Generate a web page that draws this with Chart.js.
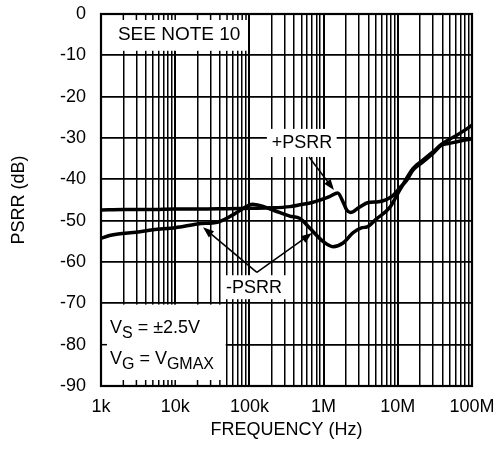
<!DOCTYPE html>
<html lang="en">
<head>
    <meta charset="UTF-8">
    <title>PSRR vs Frequency</title>
    <script src="https://cdn.jsdelivr.net/npm/chart.js"></script>
    <style>
        html, body { margin: 0; padding: 0; background: #fff; }
        #wrap { width: 496px; height: 458px; }
    </style>
</head>
<body>
    <div id="wrap"><canvas id="psrrChart"></canvas></div>

    <script>
        // frequency (Hz) / dB points
        const FREQ_POS = [1e3, 2e3, 5e3, 1e4, 2e4, 5e4, 1e5, 2e5, 3.5e5, 5e5, 7e5, 9e5, 1.2e6, 1.55e6, 1.8e6, 2.05e6, 2.3e6, 3e6, 4e6, 5.5e6, 7e6, 8.5e6, 1.07e7, 1.3e7, 1.6e7, 2.2e7, 3e7, 3.9e7, 5e7, 6.3e7, 8e7, 1e8];
        const PSRR_POS = [-47.4, -47.3, -47.3, -47.2, -47.2, -47.1, -47.0, -46.9, -46.6, -46.1, -45.6, -45.0, -44.2, -43.3, -45.2, -47.4, -48.0, -46.8, -45.6, -45.4, -44.9, -44.0, -42.0, -40.4, -37.8, -35.7, -33.7, -31.7, -31.3, -30.9, -30.5, -30.2];

        const FREQ_NEG = [1e3, 1.3e3, 1.7e3, 3e3, 5e3, 1e4, 2e4, 4e4, 6e4, 8e4, 1.1e5, 1.5e5, 2.2e5, 3.5e5, 4.8e5, 6.5e5, 9.8e5, 1.34e6, 1.83e6, 2.5e6, 3.3e6, 3.85e6, 5.2e6, 7.8e6, 1.07e7, 1.6e7, 2.2e7, 3e7, 3.9e7, 5e7, 6.3e7, 8e7, 1e8];
        const PSRR_NEG = [-54.3, -53.6, -53.2, -52.8, -52.2, -51.7, -50.8, -50.2, -48.6, -47.2, -46.0, -46.5, -47.6, -48.9, -49.5, -51.8, -55.0, -56.3, -55.4, -52.9, -51.7, -51.5, -49.5, -46.8, -42.5, -37.4, -35.3, -33.3, -31.5, -30.3, -29.3, -28.1, -26.9];

        const X_DECADES = [1e3, 1e4, 1e5, 1e6, 1e7, 1e8];
        const X_LABELS = ["1k", "10k", "100k", "1M", "10M", "100M"];
        const Y_TICKS = [0, -10, -20, -30, -40, -50, -60, -70, -80, -90];

        const FONT = "'Liberation Sans', Arial, Helvetica, sans-serif";

        function pairs(xs, ys) {
            return xs.map((f, i) => ({ x: f, y: ys[i] }));
        }

        function isDecade(v) {
            const l = Math.log10(v);
            return Math.abs(l - Math.round(l)) < 1e-9;
        }

        // boxes, labels and arrows in data coordinates
        const overlay = {
            id: "overlay",
            afterDatasetsDraw(chart) {
                const { ctx, chartArea: a, scales: { x, y } } = chart;
                const px = v => x.getPixelForValue(v);
                const py = v => y.getPixelForValue(v);

                function whiteBox(f0, f1, d0, d1) {
                    ctx.fillStyle = "#fff";
                    ctx.fillRect(px(f0), py(d0), px(f1) - px(f0), py(d1) - py(d0));
                }

                function arrow(f0, d0, f1, d1) {
                    const x0 = px(f0), y0 = py(d0), x1 = px(f1), y1 = py(d1);
                    const ang = Math.atan2(y1 - y0, x1 - x0);
                    const hl = 11, hw = 4;
                    ctx.strokeStyle = "#000";
                    ctx.lineWidth = 1.5;
                    ctx.beginPath();
                    ctx.moveTo(x0, y0);
                    ctx.lineTo(x1 - Math.cos(ang) * hl * 0.8, y1 - Math.sin(ang) * hl * 0.8);
                    ctx.stroke();
                    ctx.fillStyle = "#000";
                    ctx.beginPath();
                    ctx.moveTo(x1, y1);
                    ctx.lineTo(x1 - Math.cos(ang) * hl - Math.sin(ang) * hw, y1 - Math.sin(ang) * hl + Math.cos(ang) * hw);
                    ctx.lineTo(x1 - Math.cos(ang) * hl + Math.sin(ang) * hw, y1 - Math.sin(ang) * hl - Math.cos(ang) * hw);
                    ctx.closePath();
                    ctx.fill();
                }

                ctx.save();

                // SEE NOTE 10 box, with the top ticks left showing
                whiteBox(1e3, 9.5e4, 0, -8.9);
                ctx.strokeStyle = "#000";
                ctx.lineWidth = 1.5;
                x.ticks.forEach(t => {
                    if (t.value > 1e3 && t.value < 9.5e4) {
                        ctx.beginPath();
                        ctx.moveTo(px(t.value), a.top);
                        ctx.lineTo(px(t.value), a.top + 6);
                        ctx.stroke();
                    }
                });

                // VS / VG box, bottom + left ticks
                whiteBox(1e3, 4.8e4, -70.3, -90);
                x.ticks.forEach(t => {
                    if (t.value > 1e3 && t.value < 4.8e4) {
                        ctx.beginPath();
                        ctx.moveTo(px(t.value), a.bottom);
                        ctx.lineTo(px(t.value), a.bottom - 6);
                        ctx.stroke();
                    }
                });
                Y_TICKS.forEach(v => {
                    if (v < -70.3 && v > -90) {
                        ctx.beginPath();
                        ctx.moveTo(a.left, py(v));
                        ctx.lineTo(a.left + 6, py(v));
                        ctx.stroke();
                    }
                });

                // label backgrounds
                whiteBox(1.72e5, 1.5e6, -27.8, -34.6);
                whiteBox(4.3e4, 3.2e5, -63.2, -69.0);

                ctx.fillStyle = "#000";
                ctx.font = "19px " + FONT;
                ctx.textBaseline = "middle";
                ctx.textAlign = "left";
                ctx.fillText("SEE NOTE 10", px(1.69e3), py(-5.1));

                ctx.font = "18px " + FONT;
                ctx.textAlign = "center";
                ctx.fillText("+PSRR", px(5.1e5), py(-31.2));
                ctx.fillText("-PSRR", px(1.15e5), py(-66.3));

                // supply / gain conditions
                ctx.textAlign = "left";
                ctx.textBaseline = "alphabetic";
                let cx = px(1.32e3);
                let by = py(-77.2);
                ctx.font = "18px " + FONT;
                ctx.fillText("V", cx, by);
                let w = ctx.measureText("V").width;
                ctx.font = "16px " + FONT;
                ctx.fillText("S", cx + w, by + 5);
                w += ctx.measureText("S").width;
                ctx.font = "18px " + FONT;
                ctx.fillText(" = \u00b12.5V", cx + w, by);

                by = py(-84.7);
                ctx.fillText("V", cx, by);
                w = ctx.measureText("V").width;
                ctx.font = "16px " + FONT;
                ctx.fillText("G", cx + w, by + 5);
                w += ctx.measureText("G").width;
                ctx.font = "18px " + FONT;
                ctx.fillText(" = V", cx + w, by);
                w += ctx.measureText(" = V").width;
                ctx.font = "16px " + FONT;
                ctx.fillText("GMAX", cx + w, by + 5);

                // arrows
                arrow(6.36e5, -34.6, 1.38e6, -42.6);
                arrow(1.26e5, -62.5, 2.37e4, -51.6);
                arrow(1.26e5, -62.5, 6.98e5, -53.0);

                // outer frame
                ctx.strokeStyle = "#000";
                ctx.lineWidth = 2.2;
                ctx.strokeRect(a.left, a.top, a.right - a.left, a.bottom - a.top);
                ctx.restore();
            }
        };

        document.addEventListener("DOMContentLoaded", () => {
            const ctx = document.getElementById("psrrChart").getContext("2d");

            new Chart(ctx, {
                type: "line",
                data: {
                    datasets: [{
                        label: "+PSRR",
                        data: pairs(FREQ_POS, PSRR_POS),
                        borderColor: "#000",
                        borderWidth: 3.5,
                        pointRadius: 0,
                        cubicInterpolationMode: "monotone"
                    }, {
                        label: "-PSRR",
                        data: pairs(FREQ_NEG, PSRR_NEG),
                        borderColor: "#000",
                        borderWidth: 3.5,
                        pointRadius: 0,
                        cubicInterpolationMode: "monotone"
                    }]
                },
                options: {
                    responsive: true,
                    maintainAspectRatio: false,
                    animation: false,
                    layout: { padding: { top: 14, right: 24, left: 0, bottom: 0 } },
                    plugins: {
                        legend: { display: false },
                        tooltip: { enabled: false }
                    },
                    scales: {
                        x: {
                            type: "logarithmic",
                            min: 1e3,
                            max: 1e8,
                            afterBuildTicks: scale => {
                                const ticks = [];
                                X_DECADES.forEach(d => {
                                    for (let m = 1; m <= 9; m++) {
                                        const v = d * m;
                                        if (v <= 1e8) ticks.push({ value: v });
                                    }
                                });
                                scale.ticks = ticks;
                            },
                            afterFit: scale => {
                                scale.height = 72;
                                scale.paddingLeft = 0;
                                scale.paddingRight = 0;
                            },
                            ticks: {
                                autoSkip: false,
                                maxRotation: 0,
                                padding: 10,
                                color: "#000",
                                font: { family: FONT, size: 18 },
                                callback: v => {
                                    const i = X_DECADES.findIndex(d => Math.abs(d - v) < 1e-6 * d);
                                    return i >= 0 ? X_LABELS[i] : "";
                                }
                            },
                            grid: {
                                color: "#000",
                                drawTicks: false,
                                lineWidth: c => (c.tick && isDecade(c.tick.value)) ? 2 : 1.5
                            },
                            border: { color: "#000", width: 2 },
                            title: {
                                display: true,
                                text: "FREQUENCY (Hz)",
                                color: "#000",
                                font: { family: FONT, size: 18 },
                                padding: { top: 4, bottom: 17 }
                            }
                        },
                        y: {
                            min: -90,
                            max: 0,
                            afterBuildTicks: scale => {
                                scale.ticks = Y_TICKS.map(v => ({ value: v }));
                            },
                            afterFit: scale => {
                                scale.width = 101;
                                scale.paddingTop = 0;
                                scale.paddingBottom = 0;
                            },
                            ticks: {
                                padding: 15,
                                color: "#000",
                                font: { family: FONT, size: 18 }
                            },
                            grid: {
                                color: "#000",
                                drawTicks: false,
                                lineWidth: 1.8
                            },
                            border: { color: "#000", width: 2 },
                            title: {
                                display: true,
                                text: "PSRR (dB)",
                                color: "#000",
                                font: { family: FONT, size: 18 },
                                padding: { top: 8, bottom: 0 }
                            }
                        }
                    }
                },
                plugins: [overlay]
            });
        });
    </script>
</body>
</html>
